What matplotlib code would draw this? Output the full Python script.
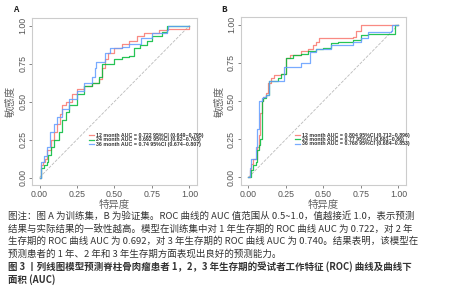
import matplotlib
matplotlib.use('Agg')
from matplotlib import pyplot as plt

plt.rcParams['font.family'] = ['Noto Sans CJK SC', 'DejaVu Sans']

# panel A (training set) ROC points: (1 - specificity, sensitivity)
a_12_fpr = [0, 0.01, 0.02, 0.04, 0.05, 0.08, 0.10, 0.12, 0.14, 0.15, 0.18, 0.22, 0.25, 0.30, 0.35, 0.40, 0.42, 0.44, 0.46, 0.50, 0.55, 0.60, 0.65, 0.70, 0.80, 0.85, 0.99, 1.0]
a_12_tpr = [0, 0.08, 0.10, 0.12, 0.18, 0.25, 0.30, 0.35, 0.42, 0.48, 0.50, 0.55, 0.58, 0.60, 0.62, 0.65, 0.72, 0.78, 0.82, 0.85, 0.88, 0.90, 0.93, 0.95, 0.97, 0.98, 0.98, 1.0]
a_24_fpr = [0, 0.01, 0.03, 0.05, 0.06, 0.08, 0.10, 0.13, 0.15, 0.18, 0.20, 0.25, 0.30, 0.35, 0.40, 0.42, 0.46, 0.50, 0.55, 0.60, 0.63, 0.67, 0.72, 0.75, 0.82, 0.85, 1.0]
a_24_tpr = [0, 0.06, 0.08, 0.10, 0.15, 0.20, 0.25, 0.30, 0.38, 0.43, 0.48, 0.55, 0.60, 0.62, 0.66, 0.75, 0.75, 0.78, 0.79, 0.80, 0.85, 0.87, 0.90, 0.93, 0.96, 1.0, 1.0]
a_36_fpr = [0, 0.01, 0.03, 0.05, 0.07, 0.10, 0.12, 0.15, 0.20, 0.25, 0.30, 0.35, 0.37, 0.38, 0.42, 0.44, 0.47, 0.55, 0.60, 0.68, 0.75, 0.85, 0.86, 1.0]
a_36_tpr = [0, 0.10, 0.14, 0.20, 0.30, 0.35, 0.40, 0.45, 0.52, 0.57, 0.62, 0.66, 0.72, 0.76, 0.76, 0.82, 0.85, 0.86, 0.88, 0.92, 0.95, 0.97, 1.0, 1.0]

# panel B (validation set)
b_12_fpr = [0, 0.01, 0.02, 0.03, 0.05, 0.06, 0.07, 0.08, 0.09, 0.10, 0.12, 0.13, 0.15, 0.17, 0.22, 0.25, 0.28, 0.33, 0.35, 0.40, 0.43, 0.45, 0.47, 0.60, 0.70, 0.72, 0.75, 1.0]
b_12_tpr = [0, 0.05, 0.09, 0.12, 0.12, 0.20, 0.28, 0.42, 0.50, 0.53, 0.55, 0.62, 0.65, 0.67, 0.68, 0.78, 0.80, 0.80, 0.83, 0.84, 0.87, 0.89, 0.91, 0.91, 0.92, 0.96, 1.0, 1.0]
b_24_fpr = [0, 0.02, 0.03, 0.05, 0.06, 0.07, 0.08, 0.09, 0.10, 0.12, 0.14, 0.20, 0.22, 0.25, 0.30, 0.35, 0.40, 0.45, 0.50, 0.55, 0.60, 0.70, 0.75, 0.80, 0.97, 0.98, 1.0]
b_24_tpr = [0, 0.05, 0.08, 0.10, 0.18, 0.21, 0.25, 0.50, 0.52, 0.54, 0.63, 0.65, 0.68, 0.78, 0.80, 0.81, 0.83, 0.84, 0.85, 0.88, 0.89, 0.90, 0.93, 0.94, 0.94, 1.0, 1.0]
b_36_fpr = [0, 0.01, 0.02, 0.05, 0.05, 0.06, 0.07, 0.09, 0.10, 0.12, 0.14, 0.22, 0.24, 0.30, 0.35, 0.40, 0.41, 0.45, 0.50, 0.55, 0.65, 0.70, 0.75, 0.80, 0.80, 0.95, 0.96, 1.0]
b_36_tpr = [0, 0.06, 0.12, 0.12, 0.20, 0.32, 0.50, 0.52, 0.53, 0.54, 0.63, 0.63, 0.72, 0.72, 0.75, 0.75, 0.82, 0.84, 0.84, 0.87, 0.87, 0.89, 0.91, 0.91, 0.95, 0.96, 1.0, 1.0]

labels_a = ['12 month AUC = 0.722 95%CI (0.649~0.795)',
            '24 month AUC = 0.692 95%CI (0.62~0.763)',
            '36 month AUC = 0.74 95%CI (0.674~0.807)']
labels_b = ['12 month AUC = 0.804 95%CI (0.712~0.896)',
            '24 month AUC = 0.77 95%CI (0.681~0.86)',
            '36 month AUC = 0.768 95%CI (0.684~0.853)']

ticks = [0, 0.25, 0.5, 0.75, 1.0]
tick_labels = ['0.00', '0.25', '0.50', '0.75', '1.00']

caption = [
    ('图注：图 A 为训练集，B 为验证集。ROC 曲线的 AUC 值范围从 0.5~1.0，值越接近 1.0，表示预测', 'normal'),
    ('结果与实际结果的一致性越高。模型在训练集中对 1 年生存期的 ROC 曲线 AUC 为 0.722，对 2 年', 'normal'),
    ('生存期的 ROC 曲线 AUC 为 0.692，对 3 年生存期的 ROC 曲线 AUC 为 0.740。结果表明，该模型在', 'normal'),
    ('预测患者的 1 年、2 年和 3 年生存期方面表现出良好的预测能力。', 'normal'),
    ('图 3 丨列线图模型预测脊柱骨肉瘤患者 1，2，3 年生存期的受试者工作特征 (ROC) 曲线及曲线下', 'bold'),
    ('面积 (AUC)', 'bold'),
]

colors = ['#F8766D', '#00BA38', '#619CFF']

fig = plt.figure(figsize=(4.52, 3.0), dpi=100)
ax_a = fig.add_axes([0.0708, 0.383, 0.365, 0.557])
ax_b = fig.add_axes([0.533, 0.383, 0.365, 0.560])


def draw_panel(ax, curves, labels, legend_xy):
    ax.plot([0, 1], [0, 1], linestyle='--', color='#BBBBBB', linewidth=0.6)
    for (fpr, tpr), c, lab in zip(curves, colors, labels):
        ax.plot(fpr, tpr, drawstyle='steps-post', color=c, linewidth=0.9, alpha=0.85, label=lab)
    ax.set_xlim(-0.05, 1.05)
    ax.set_ylim(-0.05, 1.05)
    ax.set_xticks(ticks)
    ax.set_xticklabels(tick_labels, family='Liberation Sans')
    ax.set_yticks(ticks)
    ax.set_yticklabels(tick_labels, rotation=90, va='center', family='Liberation Sans')
    ax.tick_params(labelsize=6.3, colors='#555555', length=2, width=0.5, pad=1.5)
    for s in ax.spines.values():
        s.set_color('#CCCCCC')
        s.set_linewidth(0.8)
    ax.set_xlabel('特异度', fontsize=7.5, color='#666666', labelpad=1)
    ax.set_ylabel('敏感度', fontsize=7.5, color='#666666', labelpad=2)
    leg = ax.legend(loc='center left', bbox_to_anchor=legend_xy, fontsize=3.8, frameon=False,
                    handlelength=1.0, handletextpad=0.4, labelspacing=-0.15, borderpad=0,
                    prop={'family': 'Liberation Sans', 'weight': 'bold', 'size': 3.8})
    for t in leg.get_texts():
        t.set_color('#333333')


draw_panel(ax_a, [(a_12_fpr, a_12_tpr), (a_24_fpr, a_24_tpr), (a_36_fpr, a_36_tpr)], labels_a, (0.33, 0.27))
draw_panel(ax_b, [(b_12_fpr, b_12_tpr), (b_24_fpr, b_24_tpr), (b_36_fpr, b_36_tpr)], labels_b, (0.31, 0.27))

fig.text(0.029, 0.967, 'A', fontsize=6, fontweight='bold', color='#222222', va='center')
fig.text(0.489, 0.967, 'B', fontsize=6, fontweight='bold', color='#222222', va='center')

y0 = 0.280
for i, (line, w) in enumerate(caption):
    fig.text(0.018, y0 - i * 0.0425, line, fontsize=6.8, fontweight=w, color='#333333', va='center')

fig.savefig('out.png', dpi=100)
